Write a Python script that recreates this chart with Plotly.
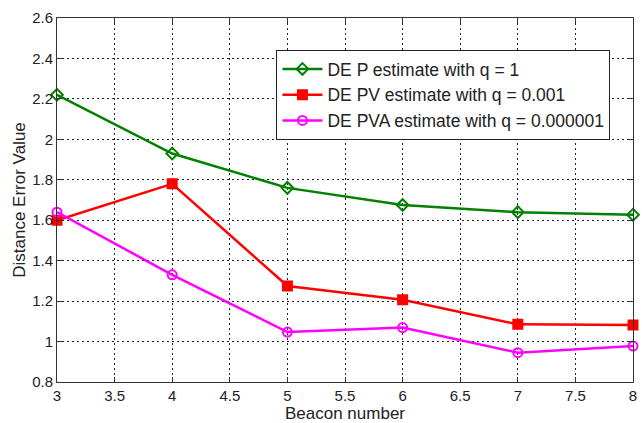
import plotly.graph_objects as go

beacons = [3, 4, 5, 6, 7, 8]
de_p = [2.22, 1.93, 1.76, 1.675, 1.64, 1.627]
de_pv = [1.60, 1.78, 1.275, 1.207, 1.085, 1.082]
de_pva = [1.64, 1.33, 1.047, 1.069, 0.945, 0.978]

names = ["DE P estimate with q = 1", "DE PV estimate with q = 0.001",
         "DE PVA estimate with q = 0.000001"]
colors = ["#008000", "#ff0000", "#ff00ff"]
symbols = ["diamond-open", "square", "circle-open"]
sizes = [9, 9, 9]

fig = go.Figure()
for ys, n, c, s, sz in zip([de_p, de_pv, de_pva], names, colors, symbols, sizes):
    fig.add_trace(go.Scatter(
        x=beacons, y=ys, mode="lines+markers", name=n,
        line=dict(color=c, width=2.5),
        marker=dict(symbol=s, size=sz, color=c, line=dict(color=c, width=2)),
        cliponaxis=False,
    ))

axis_common = dict(
    showline=True, linecolor="#333", linewidth=1, mirror="ticks",
    ticks="inside", ticklen=5, tickcolor="#333",
    showgrid=True, gridcolor="#222", griddash="2px,3px", gridwidth=1,
    zeroline=False, tickfont=dict(size=15, color="#222"),
)

fig.update_layout(
    width=642, height=423,
    margin=dict(l=57, r=5, t=18, b=41),
    paper_bgcolor="white", plot_bgcolor="white",
    font=dict(family="Liberation Sans, Arial, sans-serif", color="#222"),
    xaxis=dict(range=[3, 8], dtick=0.5, tick0=3,
               title=dict(text="Beacon number", font=dict(size=17), standoff=0),
               **axis_common),
    yaxis=dict(range=[0.8, 2.6], dtick=0.2, tick0=0.8,
               title=dict(text="Distance Error Value", font=dict(size=17), standoff=2),
               **axis_common),
    legend=dict(x=0.381, y=0.912, xanchor="left", yanchor="top",
                bgcolor="white", bordercolor="#222", borderwidth=1,
                font=dict(size=17.5, color="#222"), tracegroupgap=0,
                itemwidth=40),
    showlegend=True,
)

fig.write_html("out.html")
